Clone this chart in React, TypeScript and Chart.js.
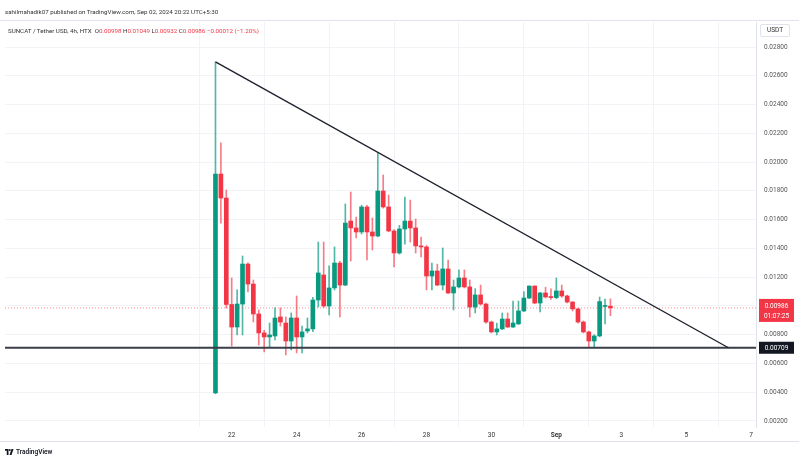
import React, { useEffect, useRef } from "react";
import { Chart, registerables } from "chart.js";

Chart.register(...registerables);

// 4h candles, index 0 = Aug 21 12:00
const opens = [
  0.00395, 0.01917, 0.0175, 0.0101, 0.00853, 0.01013, 0.01291, 0.01152, 0.00944, 0.00812,
  0.00784, 0.00791, 0.00923, 0.00881, 0.00756, 0.00916, 0.00784, 0.00826, 0.0084, 0.01041,
  0.01215, 0.00999, 0.01125, 0.01298, 0.01145, 0.0159, 0.01542, 0.01514, 0.01688, 0.01514,
  0.01486, 0.01799, 0.01688, 0.01521, 0.01368, 0.01535, 0.0159, 0.01542, 0.01417, 0.0141,
  0.01208, 0.01243, 0.01145, 0.01257, 0.0109, 0.01132, 0.01194, 0.01132, 0.00992, 0.01076,
  0.01013, 0.00888, 0.00819, 0.0084, 0.00909, 0.00853, 0.00875, 0.00965, 0.01055, 0.01138,
  0.0102, 0.0109, 0.01062, 0.01058, 0.01104, 0.01069, 0.01027, 0.00979, 0.00888, 0.00819,
  0.00756, 0.00791, 0.00996, 0.00998,
];
const highs = [
  0.02696, 0.02133, 0.01806, 0.01194, 0.01111, 0.01347, 0.013, 0.0118, 0.00972, 0.0083,
  0.00881, 0.00986, 0.00986, 0.00923, 0.00951, 0.01069, 0.0086, 0.00916, 0.0106, 0.01444,
  0.01444, 0.01278, 0.0141, 0.0131, 0.01709, 0.01792, 0.01618, 0.017, 0.017, 0.01611,
  0.02063, 0.0191, 0.01771, 0.0153, 0.0156, 0.01757, 0.01736, 0.01604, 0.01479, 0.0142,
  0.01298, 0.0129, 0.01403, 0.01319, 0.0118, 0.0125, 0.0125, 0.0118, 0.0112, 0.01145,
  0.0102, 0.00895, 0.0088, 0.00951, 0.00951, 0.01034, 0.01034, 0.011, 0.0114, 0.0114,
  0.01095, 0.0113, 0.01118, 0.01194, 0.01145, 0.01075, 0.0103, 0.00985, 0.00895, 0.00825,
  0.008, 0.01062, 0.01048, 0.01049,
];
const lows = [
  0.0039, 0.01576, 0.00985, 0.00721, 0.00798, 0.00798, 0.01097, 0.00888, 0.00728, 0.0068,
  0.00714, 0.00763, 0.0086, 0.00659, 0.00694, 0.00673, 0.00673, 0.00812, 0.0082, 0.00992,
  0.0099, 0.00937, 0.0111, 0.00923, 0.0114, 0.01312, 0.01472, 0.015, 0.01319, 0.01389,
  0.0148, 0.0168, 0.01515, 0.01271, 0.0136, 0.0143, 0.01444, 0.01368, 0.0134, 0.01111,
  0.01111, 0.0114, 0.01111, 0.01085, 0.00972, 0.01125, 0.01125, 0.00923, 0.00951, 0.01005,
  0.0088, 0.00812, 0.00798, 0.00835, 0.0085, 0.0085, 0.0087, 0.0096, 0.0105, 0.01015,
  0.00958, 0.01055, 0.01045, 0.0105, 0.0106, 0.0102, 0.00965, 0.0088, 0.00812, 0.00714,
  0.00714, 0.00785, 0.00874, 0.00932,
];
const closes = [
  0.01917, 0.0175, 0.0101, 0.00853, 0.01013, 0.01291, 0.01152, 0.00944, 0.00812, 0.00784,
  0.00798, 0.00916, 0.00888, 0.00756, 0.00916, 0.00784, 0.00819, 0.0084, 0.01041, 0.01229,
  0.00999, 0.01125, 0.01298, 0.01145, 0.01576, 0.01542, 0.01514, 0.01688, 0.01514, 0.01486,
  0.01799, 0.01688, 0.01521, 0.01368, 0.01535, 0.0159, 0.01542, 0.01417, 0.0141, 0.01208,
  0.01243, 0.01145, 0.01257, 0.0109, 0.01132, 0.01194, 0.01132, 0.00992, 0.01076, 0.01013,
  0.00888, 0.00819, 0.0084, 0.00909, 0.00853, 0.00881, 0.00965, 0.01055, 0.01138, 0.0102,
  0.0109, 0.01062, 0.01058, 0.01104, 0.01069, 0.01027, 0.00979, 0.00888, 0.00819, 0.00756,
  0.00791, 0.0103, 0.00998, 0.00986,
];

const xTickPositions = [3, 15, 27, 39, 51, 63, 75, 87, 99];
const xTickLabels = ["22", "24", "26", "28", "30", "Sep", "3", "5", "7"];
const yTicks = [
  0.002, 0.004, 0.006, 0.008, 0.01, 0.012, 0.014, 0.016, 0.018, 0.02, 0.022, 0.024, 0.026, 0.028,
];
const xRange = [-38.9, 99.9];
const yRange = [0.00158, 0.02974];
const trendLine = [
  { x: 0, y: 0.02696 },
  { x: 94.8, y: 0.00709 },
];
const supportLevel = 0.00709;
const lastPrice = 0.00986;
const countdown = "01:07:25";

const UP = "#089981";
const DOWN = "#F23645";
const FONT = "Roboto";

export default function App() {
  const ref = useRef<HTMLCanvasElement | null>(null);

  useEffect(() => {
    const canvas = ref.current;
    if (!canvas) return;
    const colors = opens.map((o, i) => (closes[i] >= o ? UP : DOWN));
    const wickColors = opens.map((o, i) =>
      closes[i] >= o ? "rgba(8,153,129,0.7)" : "rgba(242,54,69,0.65)"
    );

    const overlay = {
      id: "overlay",
      beforeDraw(chart: any) {
        const ctx = chart.ctx;
        ctx.save();
        ctx.fillStyle = "#ffffff";
        ctx.fillRect(0, 0, chart.width, chart.height);
        ctx.restore();
      },
      afterDraw(chart: any) {
        const ctx = chart.ctx;
        const area = chart.chartArea;
        const y = chart.scales.y;
        ctx.save();
        ctx.strokeStyle = "#e0e3eb";
        ctx.lineWidth = 1;
        ctx.beginPath();
        ctx.moveTo(0, area.top - 1.5);
        ctx.lineTo(chart.width, area.top - 1.5);
        ctx.moveTo(0, area.bottom + 14.5);
        ctx.lineTo(chart.width, area.bottom + 14.5);
        ctx.stroke();

        const bx = area.right + 3;
        const bw = 35;
        const p = y.getPixelForValue(lastPrice);
        ctx.fillStyle = DOWN;
        ctx.fillRect(bx, p - 9, bw, 23);
        ctx.fillStyle = "#ffffff";
        ctx.font = `6.5px ${FONT}`;
        ctx.textAlign = "center";
        ctx.textBaseline = "middle";
        ctx.fillText(lastPrice.toFixed(5), bx + bw / 2, p - 2);
        ctx.fillText(countdown, bx + bw / 2, p + 8);
        const s = y.getPixelForValue(supportLevel);
        ctx.fillStyle = "#131722";
        ctx.fillRect(bx, s - 6, bw, 12);
        ctx.fillStyle = "#ffffff";
        ctx.fillText(supportLevel.toFixed(5), bx + bw / 2, s + 0.5);
        ctx.restore();
      },
    };

    const chart = new Chart(canvas, {
      type: "bar",
      data: {
        datasets: [
          {
            type: "line",
            data: trendLine,
            borderColor: "#1e222d",
            borderWidth: 1.4,
            pointRadius: 0,
          } as any,
          {
            type: "line",
            data: [
              { x: xRange[0], y: supportLevel },
              { x: xRange[1], y: supportLevel },
            ],
            borderColor: "#3b3e48",
            borderWidth: 2,
            pointRadius: 0,
          } as any,
          {
            type: "line",
            data: [
              { x: xRange[0], y: lastPrice },
              { x: xRange[1], y: lastPrice },
            ],
            borderColor: "rgba(242,54,69,0.55)",
            borderWidth: 1,
            borderDash: [1, 2],
            pointRadius: 0,
          } as any,
          {
            type: "bar",
            data: opens.map((o, i) => ({ x: i, y: [o, closes[i]] })),
            backgroundColor: colors,
            barThickness: 4,
            minBarLength: 1,
            grouped: false,
            borderWidth: 0,
          } as any,
          {
            type: "bar",
            data: opens.map((_, i) => ({ x: i, y: [lows[i], highs[i]] })),
            backgroundColor: wickColors,
            barThickness: 1,
            grouped: false,
            borderWidth: 0,
          } as any,
        ],
      },
      options: {
        animation: false,
        responsive: false,
        maintainAspectRatio: false,
        layout: { padding: { left: 5, top: 22, right: 0, bottom: 24 } },
        plugins: { legend: { display: false }, tooltip: { enabled: false } },
        scales: {
          x: {
            type: "linear",
            position: "bottom",
            min: xRange[0],
            max: xRange[1],
            offset: false,
            afterBuildTicks: (s: any) => {
              s.ticks = xTickPositions.map((v) => ({ value: v }));
            },
            afterFit: (s: any) => {
              s.height = 14;
            },
            ticks: {
              autoSkip: false,
              maxRotation: 0,
              padding: 4,
              color: "#333333",
              callback: (_v: any, i: number) => xTickLabels[i],
              font: (c: any) => ({
                family: FONT,
                size: 6.5,
                weight: c.tick && c.tick.label === "Sep" ? "bold" : "normal",
              }),
            },
            grid: { color: "#f2f3f6", drawTicks: false },
            border: { display: false },
          },
          y: {
            type: "linear",
            position: "right",
            min: yRange[0],
            max: yRange[1],
            afterBuildTicks: (s: any) => {
              s.ticks = yTicks.map((v) => ({ value: v }));
            },
            afterFit: (s: any) => {
              s.width = 43;
            },
            ticks: {
              padding: 8,
              color: "#555555",
              font: { family: FONT, size: 6.5 },
              callback: (v: any) => Number(v).toFixed(5),
            },
            grid: { color: "#f2f3f6", drawTicks: false },
            border: { display: true, color: "#e0e3eb" },
          },
        },
      } as any,
      plugins: [overlay],
    });
    return () => chart.destroy();
  }, []);

  const small: React.CSSProperties = {
    position: "absolute",
    fontFamily: FONT,
    fontSize: 6.2,
    color: "#333",
    whiteSpace: "nowrap",
    lineHeight: 1,
  };

  return (
    <div
      style={{
        position: "absolute",
        left: 0,
        top: 0,
        width: 799,
        height: 465,
        overflow: "hidden",
        background: "#fff",
      }}
    >
      <canvas ref={ref} width={799} height={465} style={{ position: "absolute", left: 0, top: 0 }} />
      <div style={{ ...small, left: 5, top: 9 }}>
        sahilmahadik07 published on TradingView.com, Sep 02, 2024 20:22 UTC+5:30
      </div>
      <div style={{ ...small, left: 8, top: 28 }}>
        SUNCAT / Tether USD, 4h, HTX&nbsp; O<span style={{ color: DOWN }}>0.00998</span> H
        <span style={{ color: DOWN }}>0.01049</span> L<span style={{ color: DOWN }}>0.00932</span> C
        <span style={{ color: DOWN }}>0.00986</span>{" "}
        <span style={{ color: DOWN }}>−0.00012 (−1.20%)</span>
      </div>
      <div
        style={{
          ...small,
          fontSize: 6.5,
          left: 760,
          top: 24,
          width: 30,
          height: 13,
          border: "1px solid #e0e3eb",
          borderRadius: 2,
          display: "flex",
          alignItems: "center",
          justifyContent: "center",
          boxSizing: "border-box",
        }}
      >
        USDT
      </div>
      <div style={{ ...small, fontSize: 6.5, left: 5, top: 449, display: "flex", alignItems: "center", gap: 2 }}>
        <svg width="9" height="6" viewBox="0 0 36 24">
          <path d="M0 0h14v24H7V7H0z M18 24l8-24h8l-8 24z" fill="#131722" />
          <circle cx="19" cy="4" r="4" fill="#131722" />
        </svg>
        <span style={{ color: "#131722", fontWeight: 600 }}>TradingView</span>
      </div>
    </div>
  );
}
